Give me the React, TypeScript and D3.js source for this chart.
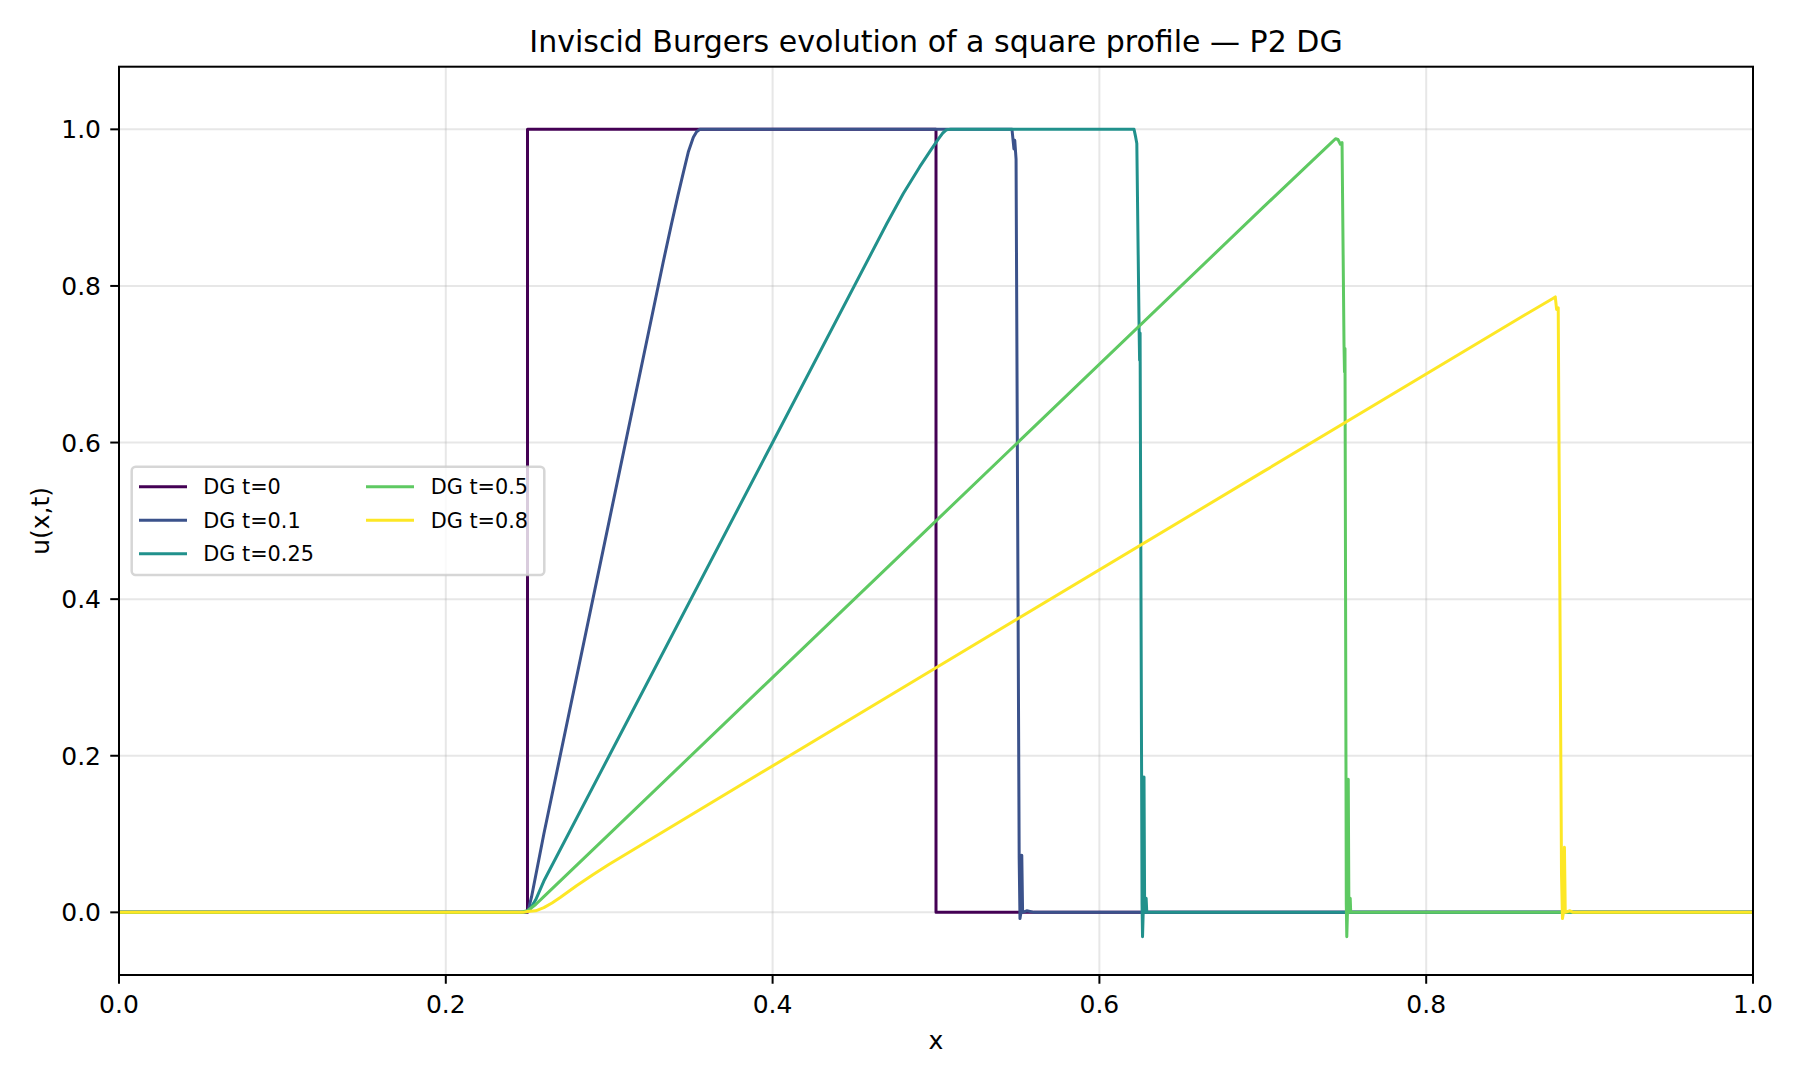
import * as d3 from "d3";

// [x, u] samples, one list per time level
const t0Points: [number, number][] = [
  [0, 0], [0.25, 0], [0.25, 1], [0.5, 1], [0.5, 0], [1, 0],
];

const t01Points: [number, number][] = [
  [0, 0], [0.248, 0], [0.2505, 0.003], [0.2525, 0.02], [0.26, 0.1], [0.3, 0.5],
  [0.333, 0.83], [0.338, 0.878], [0.342, 0.915], [0.3454, 0.945], [0.3484, 0.971],
  [0.3515, 0.99], [0.3535, 0.997], [0.3555, 1.0],
  [0.5465, 1.0], [0.5477, 0.975], [0.5482, 0.986], [0.549, 0.962], [0.5509, 0.07],
  [0.5514, -0.008], [0.552, 0.0], [0.5525, 0.073], [0.553, 0.0], [0.5555, 0.002],
  [0.56, 0], [1, 0],
];

const t025Points: [number, number][] = [
  [0, 0], [0.248, 0], [0.251, 0.002], [0.255, 0.016], [0.26, 0.04], [0.3, 0.2],
  [0.4, 0.6], [0.47, 0.88], [0.48, 0.918], [0.49, 0.952], [0.497, 0.974],
  [0.5014, 0.9875], [0.504, 0.995], [0.5065, 0.9995], [0.509, 1.0],
  [0.6212, 1.0], [0.6222, 0.99], [0.6229, 0.982], [0.6243, 0.745],
  [0.6246, 0.705], [0.6249, 0.74], [0.6261, 0.01], [0.6264, -0.031], [0.6268, 0.0],
  [0.6273, 0.173], [0.6277, 0.0], [0.6286, 0.018], [0.629, 0.0], [0.632, 0], [1, 0],
];

const t05Points: [number, number][] = [
  [0, 0], [0.245, 0], [0.25, 0.002], [0.255, 0.01], [0.26, 0.02], [0.3, 0.1],
  [0.5, 0.5], [0.7, 0.9], [0.742, 0.983], [0.7445, 0.988], [0.746, 0.987],
  [0.7475, 0.981], [0.7485, 0.983], [0.7497, 0.725], [0.75, 0.69], [0.7503, 0.72],
  [0.7511, 0.01], [0.7514, -0.031], [0.7518, 0.0], [0.7523, 0.17], [0.7527, 0.0],
  [0.7535, 0.018], [0.7538, 0.0], [0.76, 0], [1, 0],
];

const t08Points: [number, number][] = [
  [0, 0], [0.2474, 0], [0.25, 0.001], [0.255, 0.002], [0.26, 0.006], [0.265, 0.012],
  [0.27, 0.019], [0.28, 0.034], [0.29, 0.048], [0.3, 0.0615],
  [0.5, 0.3125], [0.7, 0.5625], [0.86, 0.7625], [0.8775, 0.784], [0.879, 0.786],
  [0.8798, 0.77], [0.8808, 0.772], [0.8828, 0.05], [0.8834, -0.008], [0.884, 0.0],
  [0.8846, 0.083], [0.8851, 0.0], [0.888, 0.002], [0.89, 0], [1, 0],
];

const seriesLabels = ["DG t=0", "DG t=0.1", "DG t=0.25", "DG t=0.5", "DG t=0.8"];
const seriesColors = ["#440154", "#3b528b", "#21918c", "#5ec962", "#fde725"];
const seriesData = [t0Points, t01Points, t025Points, t05Points, t08Points];

const xTicks = [0, 0.2, 0.4, 0.6, 0.8, 1.0];
const yTicks = [0, 0.2, 0.4, 0.6, 0.8, 1.0];

const W = 1800;
const H = 1080;
const plot = { left: 119, right: 1753, top: 66.7, bottom: 975 };
const FONT = "'DejaVu Sans', sans-serif";

export default function App() {
  const x = d3.scaleLinear().domain([0, 1]).range([plot.left, plot.right]);
  const y = d3.scaleLinear().domain([-0.08, 1.08]).range([plot.bottom, plot.top]);
  const line = d3
    .line<[number, number]>()
    .x((d) => x(d[0]))
    .y((d) => y(d[1]));

  // legend layout (two columns, matplotlib style)
  const legendBox = { x: 131.7, y: 466.7, w: 412.6, h: 108.3 };
  const rowY = [486.7, 520.2, 553.8];
  const colHandle = [139, 366];
  const colText = [203.3, 430.7];

  return (
    <svg
      width={W}
      height={H}
      viewBox={`0 0 ${W} ${H}`}
      style={{ position: "absolute", left: 0, top: 0, background: "#fff" }}
      fontFamily={FONT}
    >
      <defs>
        <clipPath id="plotClip">
          <rect
            x={plot.left}
            y={plot.top}
            width={plot.right - plot.left}
            height={plot.bottom - plot.top}
          />
        </clipPath>
      </defs>
      <rect x={0} y={0} width={W} height={H} fill="#fff" />

      {/* grid */}
      {xTicks.map((t) => (
        <line
          key={"gx" + t}
          x1={x(t)}
          x2={x(t)}
          y1={plot.top}
          y2={plot.bottom}
          stroke="#b0b0b0"
          strokeOpacity={0.3}
          strokeWidth={2}
        />
      ))}
      {yTicks.map((t) => (
        <line
          key={"gy" + t}
          x1={plot.left}
          x2={plot.right}
          y1={y(t)}
          y2={y(t)}
          stroke="#b0b0b0"
          strokeOpacity={0.3}
          strokeWidth={2}
        />
      ))}

      {/* curves */}
      <g clipPath="url(#plotClip)">
        {seriesData.map((pts, i) => (
          <path
            key={seriesLabels[i]}
            d={line(pts) || ""}
            fill="none"
            stroke={seriesColors[i]}
            strokeWidth={3}
            strokeLinejoin="round"
            strokeLinecap="square"
          />
        ))}
      </g>

      {/* spines */}
      <rect
        x={plot.left}
        y={plot.top}
        width={plot.right - plot.left}
        height={plot.bottom - plot.top}
        fill="none"
        stroke="#000"
        strokeWidth={2}
      />

      {/* x ticks */}
      {xTicks.map((t) => (
        <g key={"xt" + t}>
          <line x1={x(t)} x2={x(t)} y1={plot.bottom} y2={plot.bottom + 8.75} stroke="#000" strokeWidth={2} />
          <text x={x(t)} y={1013} fontSize={25} textAnchor="middle" fill="#000">
            {t.toFixed(1)}
          </text>
        </g>
      ))}
      {/* y ticks */}
      {yTicks.map((t) => (
        <g key={"yt" + t}>
          <line x1={plot.left - 8.75} x2={plot.left} y1={y(t)} y2={y(t)} stroke="#000" strokeWidth={2} />
          <text x={101} y={y(t) + 9} fontSize={25} textAnchor="end" fill="#000">
            {t.toFixed(1)}
          </text>
        </g>
      ))}

      {/* labels */}
      <text x={(plot.left + plot.right) / 2} y={1049} fontSize={25} textAnchor="middle">
        x
      </text>
      <text
        transform={`translate(49,${(plot.top + plot.bottom) / 2}) rotate(-90)`}
        fontSize={25}
        textAnchor="middle"
      >
        u(x,t)
      </text>
      <text x={(plot.left + plot.right) / 2} y={51.7} fontSize={30} textAnchor="middle">
        Inviscid Burgers evolution of a square profile — P2 DG
      </text>

      {/* legend */}
      <rect
        x={legendBox.x}
        y={legendBox.y}
        width={legendBox.w}
        height={legendBox.h}
        rx={4}
        fill="#fff"
        fillOpacity={0.8}
        stroke="#cccccc"
        strokeOpacity={0.8}
        strokeWidth={2.5}
      />
      {seriesLabels.map((label, i) => {
        const col = i < 3 ? 0 : 1;
        const row = i < 3 ? i : i - 3;
        return (
          <g key={"lg" + label}>
            <line
              x1={colHandle[col] + 1.5}
              x2={colHandle[col] + 46.5}
              y1={rowY[row]}
              y2={rowY[row]}
              stroke={seriesColors[i]}
              strokeWidth={3}
              strokeLinecap="square"
            />
            <text x={colText[col]} y={rowY[row] + 7.5} fontSize={20.8} fill="#000">
              {label}
            </text>
          </g>
        );
      })}
    </svg>
  );
}
